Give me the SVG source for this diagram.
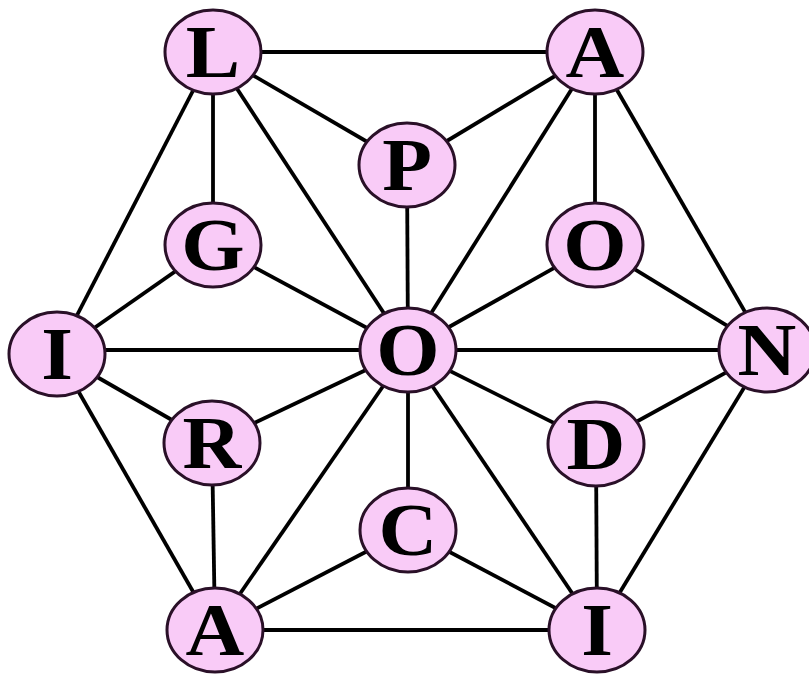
<svg xmlns="http://www.w3.org/2000/svg" width="809" height="677" viewBox="0 0 809 677">
<style>
.e{stroke:#000;stroke-width:3.8;fill:none}
.n ellipse{fill:#f9cbf7;stroke:#2a1028;stroke-width:3}
.n text{font-family:"Liberation Serif","Times New Roman",serif;font-weight:bold;font-size:74px;fill:#000;text-anchor:middle}
</style>
<rect width="809" height="677" fill="#fff"/>
<g id="edges" class="e">
<line x1="213" y1="52" x2="595" y2="52"/>
<line x1="213" y1="52" x2="407" y2="165"/>
<line x1="407" y1="165" x2="595" y2="52"/>
<line x1="213" y1="52" x2="213" y2="245"/>
<line x1="213" y1="52" x2="408" y2="350"/>
<line x1="213" y1="52" x2="57" y2="354"/>
<line x1="595" y1="52" x2="408" y2="350"/>
<line x1="595" y1="52" x2="595" y2="245"/>
<line x1="595" y1="52" x2="767" y2="350"/>
<line x1="407" y1="165" x2="408" y2="350"/>
<line x1="213" y1="245" x2="57" y2="354"/>
<line x1="213" y1="245" x2="408" y2="350"/>
<line x1="595" y1="245" x2="408" y2="350"/>
<line x1="595" y1="245" x2="767" y2="350"/>
<line x1="57" y1="350" x2="767" y2="350"/>
<line x1="57" y1="354" x2="212" y2="443"/>
<line x1="57" y1="354" x2="215" y2="630"/>
<line x1="212" y1="443" x2="408" y2="350"/>
<line x1="212" y1="443" x2="215" y2="630"/>
<line x1="596" y1="444" x2="408" y2="350"/>
<line x1="596" y1="444" x2="767" y2="350"/>
<line x1="596" y1="444" x2="597" y2="630"/>
<line x1="767" y1="350" x2="597" y2="630"/>
<line x1="408" y1="530" x2="408" y2="350"/>
<line x1="408" y1="530" x2="215" y2="630"/>
<line x1="408" y1="530" x2="597" y2="630"/>
<line x1="215" y1="630" x2="408" y2="350"/>
<line x1="597" y1="630" x2="408" y2="350"/>
<line x1="215" y1="630" x2="597" y2="630"/>
</g>
<g id="nL" class="n"><ellipse cx="213" cy="52" rx="48" ry="42"/><text transform="translate(213 77) scale(1.1 1)">L</text></g>
<g id="nA1" class="n"><ellipse cx="595" cy="52" rx="48" ry="42"/><text transform="translate(595 77) scale(1.1 1)">A</text></g>
<g id="nP" class="n"><ellipse cx="407" cy="165" rx="48" ry="42"/><text transform="translate(407 190) scale(1.1 1)">P</text></g>
<g id="nG" class="n"><ellipse cx="213" cy="245" rx="48" ry="42"/><text transform="translate(213 270) scale(1.1 1)">G</text></g>
<g id="nO2" class="n"><ellipse cx="595" cy="245" rx="48" ry="42"/><text transform="translate(595 270) scale(1.1 1)">O</text></g>
<g id="nI1" class="n"><ellipse cx="57" cy="354" rx="48" ry="42"/><text transform="translate(57 379) scale(1.1 1)">I</text></g>
<g id="nO" class="n"><ellipse cx="408" cy="350" rx="48" ry="42"/><text transform="translate(408 375) scale(1.1 1)">O</text></g>
<g id="nN" class="n"><ellipse cx="767" cy="350" rx="48" ry="42"/><text transform="translate(767 375) scale(1.1 1)">N</text></g>
<g id="nR" class="n"><ellipse cx="212" cy="443" rx="48" ry="42"/><text transform="translate(212 468) scale(1.1 1)">R</text></g>
<g id="nD" class="n"><ellipse cx="596" cy="444" rx="48" ry="42"/><text transform="translate(596 469) scale(1.1 1)">D</text></g>
<g id="nC" class="n"><ellipse cx="408" cy="530" rx="48" ry="42"/><text transform="translate(408 555) scale(1.1 1)">C</text></g>
<g id="nA2" class="n"><ellipse cx="215" cy="630" rx="48" ry="42"/><text transform="translate(215 655) scale(1.1 1)">A</text></g>
<g id="nI2" class="n"><ellipse cx="597" cy="630" rx="48" ry="42"/><text transform="translate(597 655) scale(1.1 1)">I</text></g>
</svg>
